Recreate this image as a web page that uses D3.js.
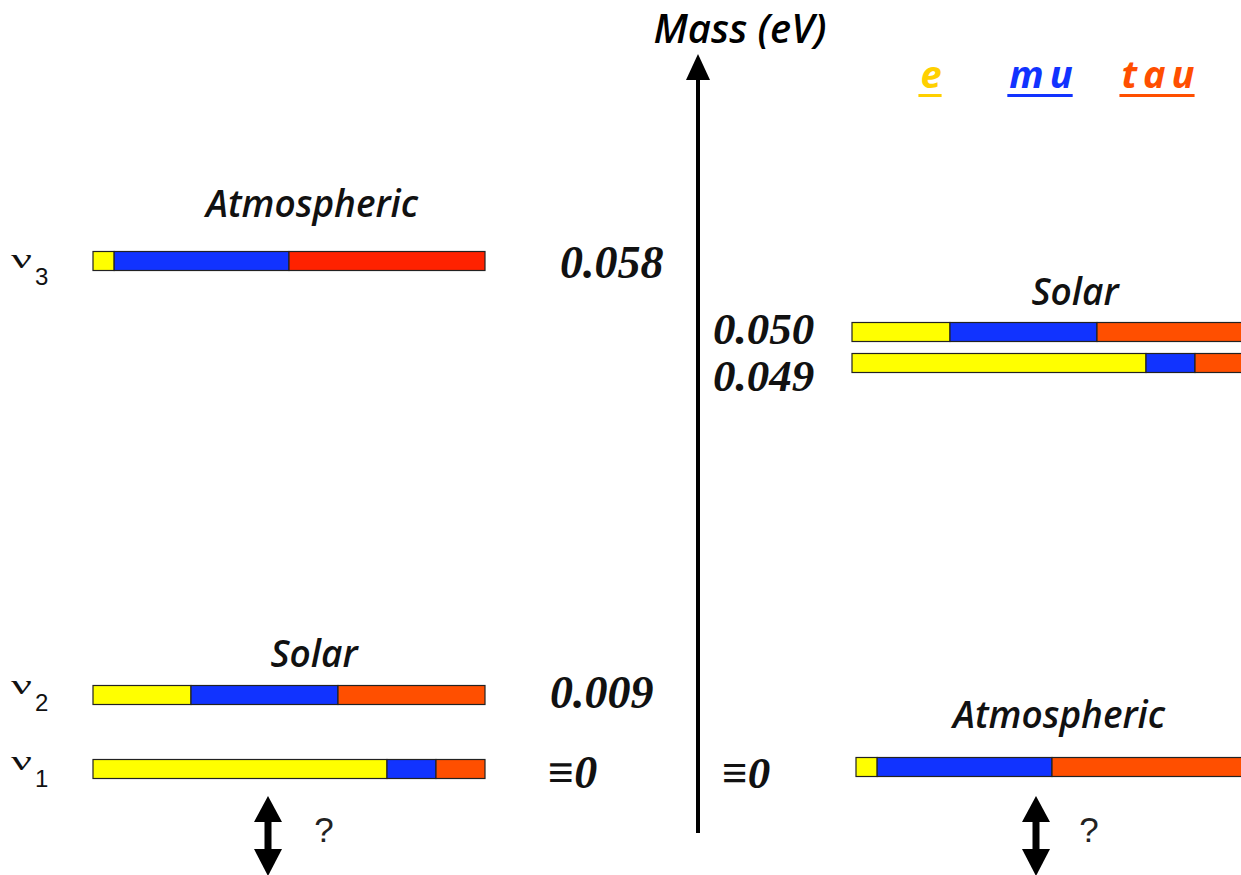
<!DOCTYPE html>
<html><head><meta charset="utf-8">
<script src="https://cdn.jsdelivr.net/npm/d3@7"></script>
<style>body{margin:0;background:#fff}svg{display:block}</style>
</head><body><svg id="c" width="1241" height="875"></svg>
<script>
// ---- data ----
const flavours = ["e", "mu", "tau"];
const flavourColors = ["#ffd000", "#1133ff", "#ff4f00"];
const segColors = ["#ffff00", "#1133ff", "#ff4f00"];
const atmRed = "#ff2200";
// flavour fractions of each mass state
const nu1Mix = [0.75, 0.125, 0.125];
const nu2Mix = [0.25, 0.375, 0.375];
const nu3Mix = [0.054, 0.446, 0.5];
// normal hierarchy (left)
const normalStates = ["3", "2", "1"];
const normalMasses = [0.058, 0.009, 0];
const normalLabels = ["0.058", "0.009", "≡0"];
// inverted hierarchy (right)
const invertedMasses = [0.050, 0.049, 0];
const invertedLabels = ["0.050", "0.049", "≡0"];

const svg = d3.select("#c");
const sansIt = "'Open Sans', 'Noto Sans', sans-serif";
const serifIt = "'Liberation Serif', 'Times New Roman', serif";

// schematic (non-linear) mass scales
const yLeft = d3.scaleLinear().domain([0, 0.009, 0.058]).range([769, 695, 261]);
const yRight = d3.scaleLinear().domain([0, 0.049, 0.050]).range([767, 363, 332]);
const xLeft = d3.scaleLinear().domain([0, 1]).range([93, 485]);
const xRight = d3.scaleLinear().domain([0, 1]).range([852, 1244]);
const xRightAtm = d3.scaleLinear().domain([0, 1]).range([856, 1248]);
const barH = 19;

function drawBar(mix, xs, yc, red) {
  let acc = 0;
  const segs = mix.map((f, i) => { const s = {x0: acc, x1: acc + f, i}; acc += f; return s; });
  svg.append("g").selectAll("rect").data(segs).join("rect")
    .attr("x", d => xs(d.x0)).attr("width", d => xs(d.x1) - xs(d.x0))
    .attr("y", yc - barH / 2).attr("height", barH)
    .attr("fill", d => (d.i === 2 && red) ? red : segColors[d.i])
    .attr("stroke", "#222").attr("stroke-width", 1.2);
}

// left bars
const leftMixes = [nu3Mix, nu2Mix, nu1Mix];
normalMasses.forEach((m, i) => drawBar(leftMixes[i], xLeft, yLeft(m), i === 0 ? atmRed : null));
// right bars
drawBar(nu2Mix, xRight, yRight(invertedMasses[0]));
drawBar(nu1Mix, xRight, yRight(invertedMasses[1]));
drawBar(nu3Mix, xRightAtm, yRight(invertedMasses[2]));

// nu labels
const nuOffsets = [7, -1, 1];
normalStates.forEach((s, i) => {
  const yb = yLeft(normalMasses[i]) + nuOffsets[i];
  svg.append("text").attr("x", 11).attr("y", yb)
    .attr("font-family", "'Liberation Serif', serif").attr("font-size", 28).attr("fill", "#111")
    .attr("textLength", 21).attr("lengthAdjust", "spacingAndGlyphs").text("ν");
  svg.append("text").attr("x", 35).attr("y", yb + 17)
    .attr("font-family", "'Liberation Sans', Arial, sans-serif").attr("font-size", 24).attr("fill", "#111").text(s);
});

// mass labels left
const leftX = [560, 550, 548];
const leftDy = [17, 13, 19];
normalLabels.forEach((l, i) => {
  svg.append("text").attr("x", leftX[i]).attr("y", yLeft(normalMasses[i]) + leftDy[i])
    .attr("font-family", serifIt).attr("font-style", "italic").attr("font-weight", 700)
    .attr("font-size", 46).attr("fill", "#111").text(l);
});
// mass labels right
const rightX = [713, 713, 722];
const rightDy = [12, 28, 21];
invertedLabels.forEach((l, i) => {
  svg.append("text").attr("x", rightX[i]).attr("y", yRight(invertedMasses[i]) + rightDy[i])
    .attr("font-family", serifIt).attr("font-style", "italic").attr("font-weight", 700)
    .attr("font-size", 45).attr("fill", "#111").text(l);
});

// group titles
function title(txt, x, y) {
  svg.append("text").attr("x", x).attr("y", y).attr("text-anchor", "middle")
    .attr("font-family", sansIt).attr("font-style", "italic").attr("font-weight", 600)
    .attr("font-size", 37).attr("fill", "#111").text(txt);
}
title("Atmospheric", 312, 217);
title("Solar", 314, 667);
title("Solar", 1075, 305);
title("Atmospheric", 1059, 728);

// mass axis
svg.append("line").attr("x1", 698).attr("x2", 698).attr("y1", 76).attr("y2", 833)
  .attr("stroke", "#000").attr("stroke-width", 4);
svg.append("path").attr("d", d3.line()([[686, 80], [698, 54], [710, 80]]) + "Z").attr("fill", "#000");
svg.append("text").attr("x", 740).attr("y", 43).attr("text-anchor", "middle")
  .attr("font-family", sansIt).attr("font-style", "italic").attr("font-weight", 600)
  .attr("font-size", 40).attr("fill", "#000").text("Mass (eV)");

// legend
const legX = [934, 1044, 1161];
flavours.forEach((f, i) => {
  const t = svg.append("text").attr("x", legX[i]).attr("y", 88).attr("text-anchor", "middle")
    .attr("font-family", sansIt).attr("font-style", "italic").attr("font-weight", 700)
    .attr("font-size", 38).attr("letter-spacing", 6).attr("fill", flavourColors[i]).text(f);
  const bb = t.node().getBBox();
  svg.append("rect").attr("x", bb.x - 2).attr("width", bb.width - 4).attr("y", 94).attr("height", 3)
    .attr("fill", flavourColors[i]);
});

// double arrows with "?"
function dbl(x, qx) {
  svg.append("rect").attr("x", x - 3.5).attr("y", 815).attr("width", 7).attr("height", 40).attr("fill", "#000");
  svg.append("path").attr("d", d3.line()([[x - 14, 822], [x, 796], [x + 14, 822]]) + "Z").attr("fill", "#000");
  svg.append("path").attr("d", d3.line()([[x - 14, 849], [x, 876], [x + 14, 849]]) + "Z").attr("fill", "#000");
  svg.append("text").attr("x", qx).attr("y", 842).attr("text-anchor", "middle")
    .attr("font-family", "'Liberation Sans', Arial, sans-serif")
    .attr("font-size", 35).attr("fill", "#222").text("?");
}
dbl(268, 324);
dbl(1036, 1089);
</script></body></html>
